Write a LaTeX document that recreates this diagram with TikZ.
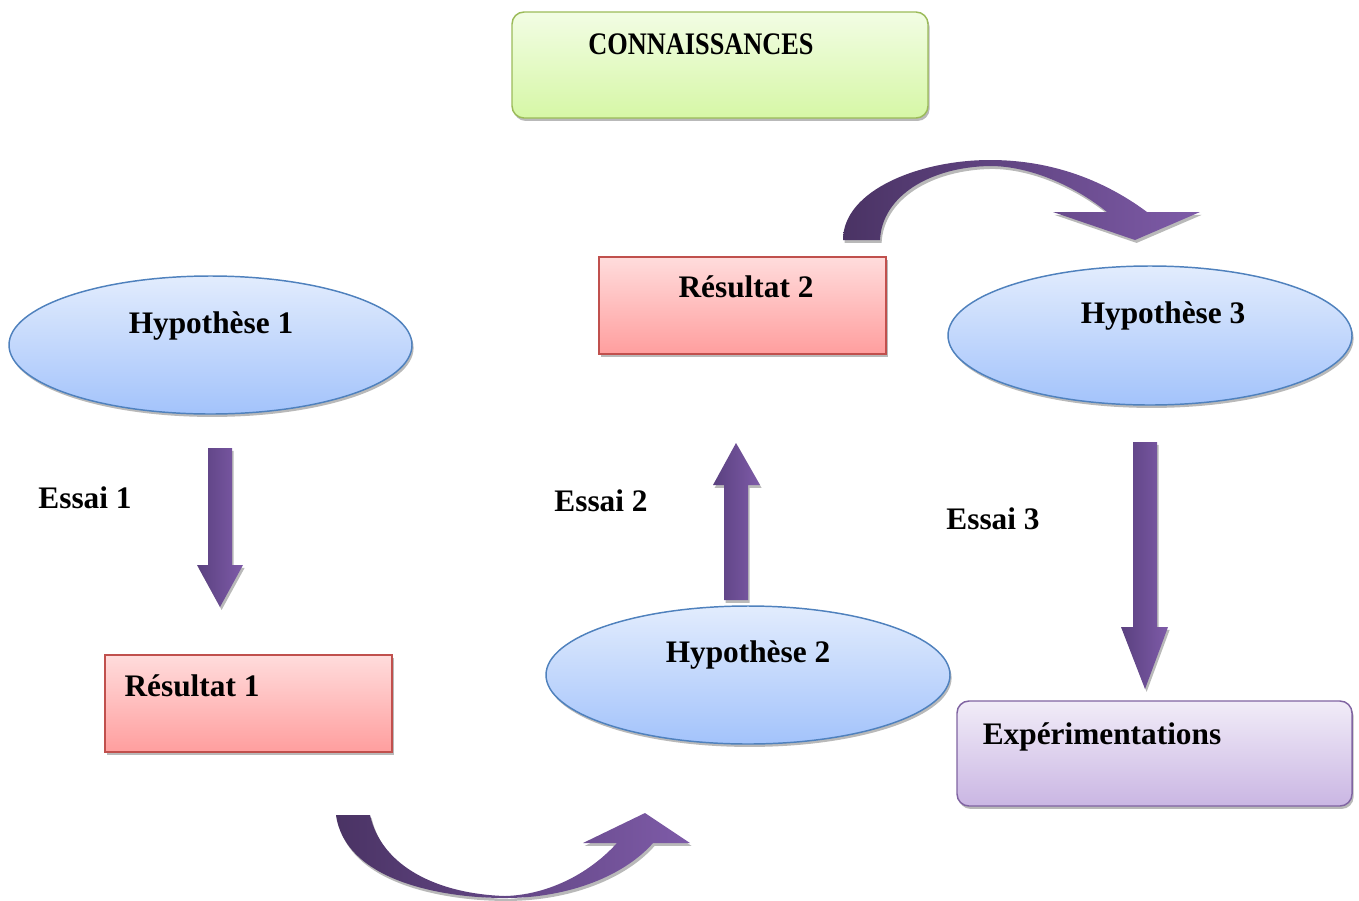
\documentclass[tikz,border=0pt]{standalone}
\usepackage{fontspec}
\usepackage{graphicx}
\setmainfont{Liberation Serif}
\usetikzlibrary{shapes.geometric,shadows}
\definecolor{grnB}{HTML}{9BBB59}
\definecolor{grnT}{HTML}{F2FDE4}
\definecolor{grnL}{HTML}{D6F7A6}
\definecolor{bluB}{HTML}{4F81BD}
\definecolor{bluT}{HTML}{E2ECFD}
\definecolor{bluL}{HTML}{A3C3FB}
\definecolor{redB}{HTML}{C0504D}
\definecolor{redT}{HTML}{FFDCDC}
\definecolor{redL}{HTML}{FF9E9E}
\definecolor{purB}{HTML}{8064A2}
\definecolor{purT}{HTML}{F1ECF8}
\definecolor{purL}{HTML}{CAB6E3}
\definecolor{arrD}{HTML}{4A3364}
\definecolor{arrL}{HTML}{7E5BA8}
\definecolor{arrM}{HTML}{6A4C96}
\tikzset{
  shad/.style={drop shadow={shadow xshift=1.2pt,shadow yshift=-2.2pt,fill=black!55,opacity=.5}},
  ell/.style={ellipse,draw=bluB,line width=1.1pt,top color=bluT,bottom color=bluL,shad,inner sep=0pt},
  resbox/.style={rectangle,draw=redB,line width=1.1pt,top color=redT,bottom color=redL,shad,inner sep=0pt},
  knbox/.style={rectangle,rounded corners=9pt,draw=grnB,line width=1.1pt,top color=grnT,bottom color=grnL,shad,inner sep=0pt},
  expbox/.style={rectangle,rounded corners=9pt,draw=purB,line width=1.1pt,top color=purT,bottom color=purL,shad,inner sep=0pt},
  lbl/.style={anchor=base,inner sep=0pt,font=\fontsize{23.5pt}{26pt}\selectfont\bfseries},
  barrow/.style={left color=arrM!85!black,right color=arrL,shad},
  carrow/.style={left color=arrD,right color=arrL,shad}
}
\begin{document}
\begin{tikzpicture}[x=0.75pt,y=-0.75pt]
\useasboundingbox (0,0) rectangle (1359,900);
% shapes
\node[knbox,minimum width=312pt,minimum height=79.5pt] (kn) at (720,65) {};
\node[ell,minimum width=302.25pt,minimum height=103.5pt] (h1) at (210.5,345) {};
\node[resbox,minimum width=215.25pt,minimum height=72.75pt] (r1) at (248.5,703.5) {};
\node[ell,minimum width=303pt,minimum height=103.5pt] (h2) at (748,675) {};
\node[resbox,minimum width=215.25pt,minimum height=72.75pt] (r2) at (742.5,305.5) {};
\node[ell,minimum width=303pt,minimum height=104.25pt] (h3) at (1150,335.5) {};
\node[expbox,minimum width=296.25pt,minimum height=78.75pt] (ex) at (1154.5,753.5) {};
% labels
\node[lbl] (tkn) at (701,54) {\scalebox{0.84}[1]{CONNAISSANCES}};
\node[lbl] (th1) at (211,333) {Hypothèse 1};
\node[lbl] (tr1) at (192,696) {Résultat 1};
\node[lbl] (th2) at (748,662) {Hypothèse 2};
\node[lbl] (tr2) at (746,297) {Résultat 2};
\node[lbl] (th3) at (1163,323) {Hypothèse 3};
\node[lbl] (tex) at (1102,744) {Expérimentations};
\node[lbl] (e1) at (85,508) {Essai 1};
\node[lbl] (e2) at (601,511) {Essai 2};
\node[lbl] (e3) at (993,529) {Essai 3};
% straight block arrows
\path[barrow] (208,448) -- (232,448) -- (232,565) -- (243,565) -- (220,607) -- (197,565) -- (208,565) -- cycle;
\path[barrow] (724,600) -- (748,600) -- (748,485) -- (760,485) -- (736,443) -- (713,485) -- (724,485) -- cycle;
\path[barrow] (1133,442) -- (1157,442) -- (1157,627) -- (1168,627) -- (1145,689) -- (1121,627) -- (1133,627) -- cycle;
% curved arrows
\path[carrow] (336,815) .. controls (345,880) and (440,898) .. (505,898)
  .. controls (570,898) and (625,875) .. (653,843) -- (690,843) -- (645,813) -- (583,843) -- (617,843)
  .. controls (587,876) and (545,895) .. (505,896)
  .. controls (440,894) and (382,868) .. (370,815) -- cycle;
\path[carrow] (843,240) .. controls (843,190) and (920,160) .. (990,160)
  .. controls (1060,160) and (1112,186) .. (1147,212) -- (1200,212) -- (1135,240) -- (1053,212) -- (1107,212)
  .. controls (1075,186) and (1030,166) .. (990,166)
  .. controls (930,167) and (882,196) .. (880,240) -- cycle;
\end{tikzpicture}
\end{document}
